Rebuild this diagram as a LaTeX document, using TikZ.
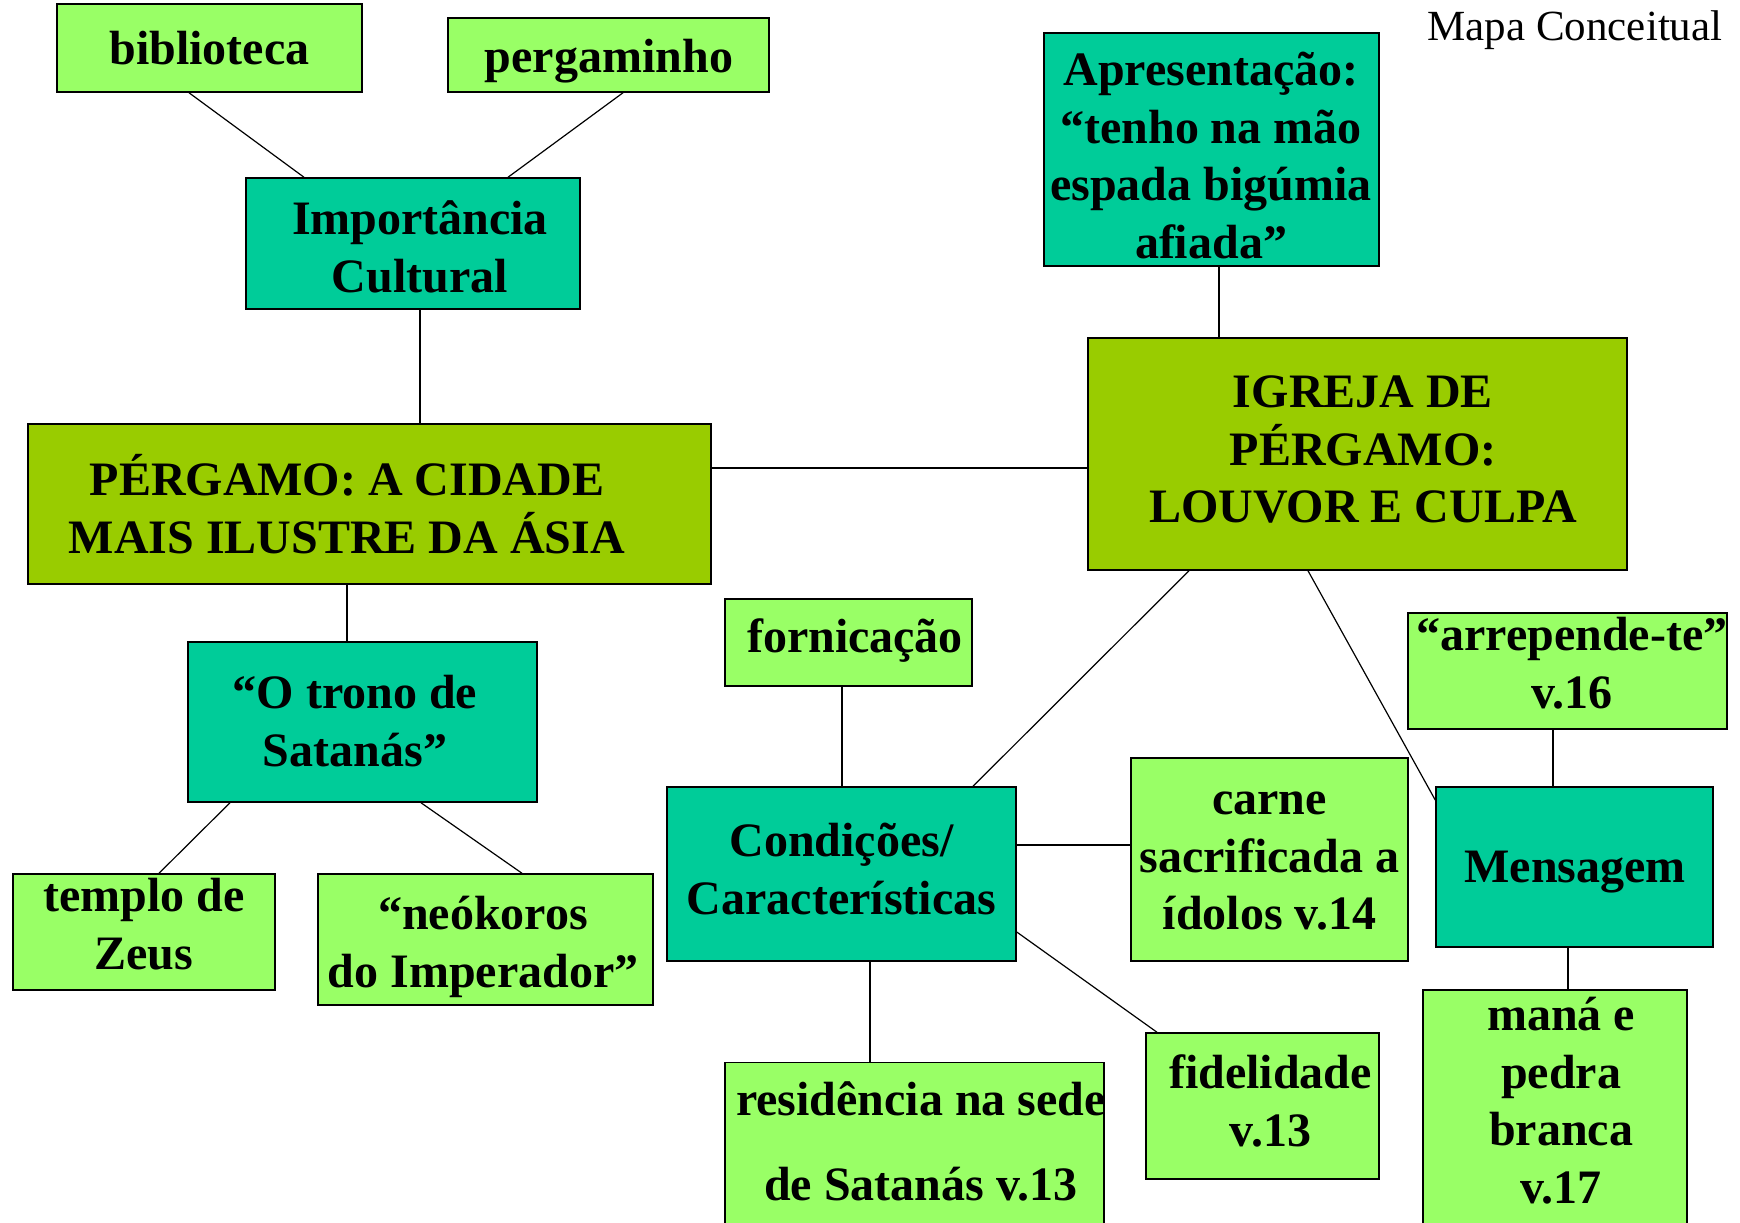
\documentclass[tikz,border=0pt]{standalone}
\usepackage{fontspec}
\setmainfont{Liberation Serif}
\definecolor{lgreen}{HTML}{99FF66}
\definecolor{tealbox}{HTML}{00CC99}
\definecolor{olivebox}{HTML}{99CC00}
\newcommand\ls{\rule[-7.5pt]{0pt}{28.5pt}}
\begin{document}
\begin{tikzpicture}[x=0.5pt,y=-0.5pt,
  box/.style={draw=black,line width=0.75pt,inner sep=0pt,rectangle},
  lg/.style={box,fill=lgreen},
  tl/.style={box,fill=tealbox},
  ol/.style={box,fill=olivebox},
  txt/.style={font=\fontsize{24}{28.8}\selectfont\bfseries,align=center,inner sep=0pt,anchor=north},
  link/.style={draw=black,line width=0.6pt}]
\fill[white] (0,0) rectangle (1740,1222);

% boxes
\node[lg,minimum width=152.5pt,minimum height=44pt]  (bib)  at (209.5,48) {};
\node[lg,minimum width=160.5pt,minimum height=37pt]  (perg) at (608.5,55) {};
\node[tl,minimum width=167pt,minimum height=65.5pt]  (imp)  at (413,243.5) {};
\node[ol,minimum width=341.5pt,minimum height=80pt]  (cid)  at (369.5,504) {};
\node[tl,minimum width=167.5pt,minimum height=116.5pt] (apr) at (1211.5,149.5) {};
\node[ol,minimum width=269.5pt,minimum height=116pt] (igr)  at (1357.5,454) {};
\node[tl,minimum width=174.5pt,minimum height=80pt]  (tro)  at (362.5,722) {};
\node[lg,minimum width=131pt,minimum height=58pt]    (tem)  at (144,932) {};
\node[lg,minimum width=167.5pt,minimum height=65.5pt] (neo) at (485.5,939.5) {};
\node[lg,minimum width=123.5pt,minimum height=43.5pt] (for) at (848.5,642.5) {};
\node[tl,minimum width=174.5pt,minimum height=87pt]  (con)  at (841.5,874) {};
\node[lg,minimum width=138.5pt,minimum height=101.5pt] (car) at (1269.5,859.5) {};
\node[tl,minimum width=138.5pt,minimum height=80pt]  (men)  at (1574.5,867) {};
\node[lg,minimum width=159.5pt,minimum height=58pt]  (arr)  at (1567.5,671) {};
\node[lg,minimum width=116.5pt,minimum height=73pt]  (fid)  at (1262.5,1106) {};
\node[lg,minimum width=132pt,minimum height=118pt]   (man)  at (1555,1108) {};
\node[lg,minimum width=189.5pt,minimum height=81pt]  (res)  at (914.5,1143.5) {};

% connectors
\draw[link] ([xshift=-10.25pt]bib.south) -- ([xshift=-54.5pt]imp.north);
\draw[link] ([xshift=7.25pt]perg.south) -- ([xshift=47.5pt]imp.north);
\draw[link] ([xshift=3.5pt]imp.south) -- ([xshift=25.25pt]cid.north);
\draw[link] ([yshift=18pt]cid.east) -- ([yshift=-7pt]igr.west);
\draw[link] ([xshift=3.75pt]apr.south) -- ([xshift=-69.25pt]igr.north);
\draw[link] ([xshift=-11.25pt]cid.south) -- ([xshift=-7.75pt]tro.north);
\draw[link] ([xshift=-66.25pt]tro.south) -- ([xshift=7.5pt]tem.north);
\draw[link] ([xshift=29.25pt]tro.south) -- ([xshift=18.25pt]neo.north);
\draw[link] ([xshift=-84.25pt]igr.south) -- ([xshift=65.75pt]con.north);
\draw[link] ([xshift=-24.75pt]igr.south) -- ([yshift=33.5pt]men.west);
\draw[link] ([xshift=-3.25pt]for.south) -- ([xshift=0.25pt]con.north);
\draw[link] ([yshift=14.5pt]con.east) -- ([yshift=7.25pt]car.west);
\draw[link] ([yshift=-29pt]con.east) -- ([xshift=-52.75pt]fid.north);
\draw[link] ([xshift=14.25pt]con.south) -- ([xshift=-22.25pt]res.north);
\draw[link] ([xshift=-7.25pt]arr.south) -- ([xshift=-10.75pt]men.north);
\draw[link] ([xshift=-3.25pt]men.south) -- ([xshift=6.5pt]man.north);

% texts
\node[txt] (tbib)  at (209.5,22) {\ls biblioteca};
\node[txt] (tperg) at (609,30) {\ls pergaminho};
\node[txt] (timp)  at (420,192) {\ls Importância\\\ls Cultural};
\node[txt] (tcid)  at (347,453) {\ls PÉRGAMO: A CIDADE\\\ls MAIS ILUSTRE DA ÁSIA};
\node[txt] (tapr)  at (1211,43) {\ls Apresentação:\\\ls “tenho na mão\\\ls espada bigúmia\\\ls afiada”};
\node[txt] (tigr)  at (1363,365) {\ls IGREJA DE\\\ls PÉRGAMO:\\\ls LOUVOR E CULPA};
\node[txt] (ttro)  at (355,666) {\ls “O trono de\\\ls Satanás”};
\node[txt] (ttem)  at (144,869) {\ls templo de\\\ls Zeus};
\node[txt] (tneo)  at (483,887) {\ls “neókoros\\\ls do Imperador”};
\node[txt] (tfor)  at (855,610) {\ls fornicação};
\node[txt] (tcon)  at (841.5,814.5) {\ls Condições/\\\ls Características};
\node[txt] (tcar)  at (1269.5,772) {\ls carne\\\ls sacrificada a\\\ls ídolos v.14};
\node[txt] (tmen)  at (1575,840.5) {\ls Mensagem};
\node[txt] (tarr)  at (1572,608) {\ls “arrepende-te”\\\ls v.16};
\node[txt] (tfid)  at (1270.5,1046) {\ls fidelidade\\\ls v.13};
\node[txt] (tman)  at (1561,988) {\ls maná e\\\ls pedra\\\ls branca\\\ls v.17};
\node[txt] (tres)  at (921,1073) {\ls residência na sede\\[13.7pt]\ls de Satanás v.13};
\node[font=\fontsize{21.5}{25}\selectfont,inner sep=0pt,anchor=base] (title) at (1575,40) {Mapa Conceitual};

\pgfresetboundingbox
\useasboundingbox (0,0) rectangle (1740,1222);
\end{tikzpicture}
\end{document}
